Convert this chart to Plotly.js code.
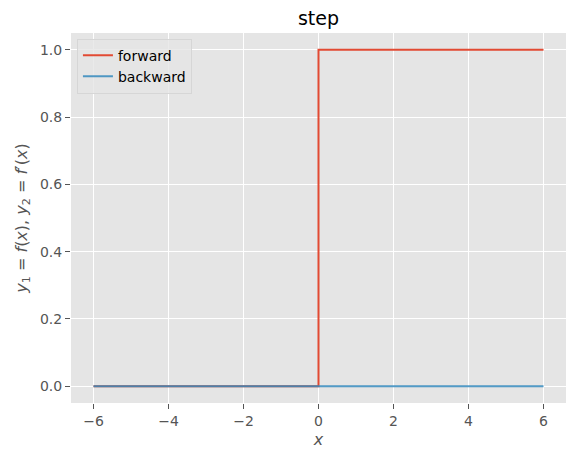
<!DOCTYPE html>
<html><head><meta charset="utf-8">
<script src="https://cdn.plot.ly/plotly-3.0.1.min.js"></script>
<style>html,body{margin:0;padding:0;background:#fff}#chart{width:576px;height:460px}</style>
</head><body><div id="chart"></div>
<script>
var xForward = [-6, 0, 0, 6];
var yForward = [0, 0, 1, 1];
var xBackward = [-6, 0, 6];
var yBackward = [0, 0, 0];
var xTicks = [-6, -4, -2, 0, 2, 4, 6];
var xTickText = ['\u22126', '\u22124', '\u22122', '0', '2', '4', '6'];
var yTicks = [0, 0.2, 0.4, 0.6, 0.8, 1.0];
var yTickText = ['0.0', '0.2', '0.4', '0.6', '0.8', '1.0'];

var font = 'DejaVu Sans, sans-serif';
var traces = [
  {x: xForward, y: yForward, mode: 'lines', name: 'forward', line: {color: '#E24A33', width: 2}},
  {x: xBackward, y: yBackward, mode: 'lines', name: 'backward', opacity: 0.85, line: {color: '#348ABD', width: 2}}
];
var axisCommon = {
  showline: false, zeroline: false, gridcolor: '#ffffff', gridwidth: 1,
  ticks: 'outside', ticklen: 5, tickwidth: 1, tickcolor: '#555555',
  tickfont: {family: font, size: 14, color: '#555555'}
};
var layout = {
  width: 576, height: 460,
  paper_bgcolor: '#ffffff', plot_bgcolor: '#E5E5E5',
  margin: {l: 71, r: 10, t: 33, b: 57},
  title: {text: 'step', font: {family: font, size: 19, color: '#000000'}, x: 0.5, xanchor: 'center', xref: 'paper', y: 1, yref: 'paper', yanchor: 'bottom', pad: {b: 8}},
  showlegend: true,
  legend: {x: 0.012, y: 0.985, xanchor: 'left', yanchor: 'top', bgcolor: 'rgba(229,229,229,0.8)', bordercolor: '#d6d6d6', borderwidth: 1, font: {family: font, size: 14, color: '#000'}, tracegroupgap: 0},
  xaxis: Object.assign({}, axisCommon, {range: [-6.6, 6.6], tickvals: xTicks, ticktext: xTickText,
    title: {text: '<i>x</i>', font: {family: font, size: 16, color: '#555555'}, standoff: 6}}),
  yaxis: Object.assign({}, axisCommon, {range: [-0.05, 1.05], tickvals: yTicks, ticktext: yTickText,
    title: {text: '<i>y</i><sub>1</sub> = <i>f</i>(<i>x</i>), <i>y</i><sub>2</sub> = <i>f</i>\u2032(<i>x</i>)', font: {family: font, size: 16, color: '#555555'}, standoff: 8}})
};
Plotly.newPlot('chart', traces, layout, {displayModeBar: false, staticPlot: true});
</script></body></html>
